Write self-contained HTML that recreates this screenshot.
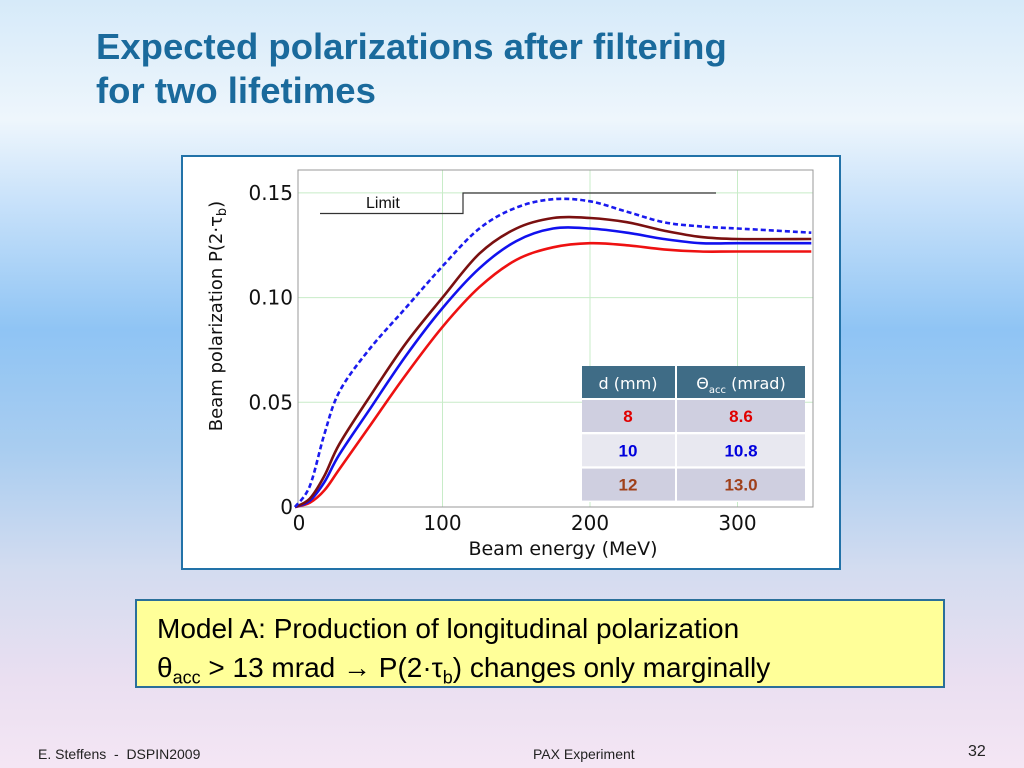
<!DOCTYPE html>
<html><head><meta charset="utf-8"><style>
html,body{margin:0;padding:0;}
body{width:1024px;height:768px;position:relative;overflow:hidden;font-family:"Liberation Sans",sans-serif;
background:linear-gradient(180deg,#d6eaf9 0px,#eef6fc 120px,#c9e2fa 200px,#8fc4f4 330px,#a9cdf0 450px,#d3dcf0 570px,#eadff1 680px,#f4e6f4 768px);}
.title{position:absolute;left:96px;top:25px;font-size:36.5px;font-weight:bold;color:#1a6a9c;line-height:44px;}
.chartbox{position:absolute;left:181px;top:155px;width:656px;height:411px;background:#fff;border:2px solid #2272a8;}
.note{position:absolute;left:135px;top:599px;width:806px;height:85px;background:#ffff99;border:2px solid #2a6f9a;}
.note div{position:absolute;left:20px;font-size:28px;color:#000;white-space:nowrap;}
.foot{position:absolute;top:746px;font-size:14px;color:#222;}
</style></head><body>
<div class="title">Expected polarizations after filtering<br>for two lifetimes</div>
<div class="chartbox"></div>
<svg id="chart" width="1024" height="768" style="position:absolute;left:0;top:0" font-family="DejaVu Sans, Liberation Sans, sans-serif"></svg>
<div class="note">
<div style="top:12px">Model A: Production of longitudinal polarization</div>
<div style="top:51px">θ<sub style="font-size:18px">acc</sub> &gt; 13 mrad → P(2·τ<sub style="font-size:18px">b</sub>) changes only marginally</div>
</div>
<div class="foot" style="left:38px">E. Steffens &nbsp;- &nbsp;DSPIN2009</div>
<div class="foot" style="left:533px">PAX Experiment</div>
<div class="foot" style="left:968px;top:743px;font-size:16px">32</div>
<script>
const energies=[0,10,20,30,50,75,100,125,150,175,200,225,250,275,300,350];
const dashedBlue=[0,0.010,0.035,0.055,0.075,0.095,0.115,0.133,0.143,0.147,0.146,0.141,0.136,0.134,0.133,0.131];
const brown12=[0,0.004,0.015,0.030,0.052,0.078,0.100,0.121,0.133,0.138,0.138,0.136,0.132,0.129,0.128,0.128];
const blue10=[0,0.003,0.012,0.025,0.046,0.072,0.095,0.114,0.127,0.133,0.133,0.131,0.128,0.126,0.126,0.126];
const red8=[0,0.002,0.008,0.018,0.038,0.063,0.086,0.105,0.118,0.124,0.126,0.125,0.123,0.122,0.122,0.122];
const xTicks=[0,100,200,300];
const yTicks=[0,0.05,0.10,0.15];
const yTickLabels=["0","0.05","0.10","0.15"];
const legendRows=[["8","8.6","#e00000"],["10","10.8","#0000dd"],["12","13.0","#a0401a"]];

const svg=document.getElementById('chart');const NS='http://www.w3.org/2000/svg';
const X=v=>295+1.475*v, Y=v=>507-v*2094;
function mk(t,a,p){const e=document.createElementNS(NS,t);for(const k in a)e.setAttribute(k,a[k]);(p||svg).appendChild(e);return e;}
const L=298,R=813,T=170,B=507;
xTicks.forEach(v=>{if(v>0){const g=mk('line',{x1:X(v),x2:X(v),y1:T,y2:B,stroke:'#c8ecc8','stroke-width':1});
}
const t=mk('text',{x:X(v)+(v==0?4:0),y:530,'font-size':20,'text-anchor':'middle',fill:'#111'});t.textContent=v;
});
yTicks.forEach((v,i)=>{if(v>0){const g=mk('line',{x1:L,x2:R,y1:Y(v),y2:Y(v),stroke:'#c8ecc8','stroke-width':1});
}
const t=mk('text',{x:293,y:Y(v)+7,'font-size':20,'text-anchor':'end',fill:'#111'});t.textContent=yTickLabels[i];
});
const fr=mk('rect',{x:L,y:T,width:R-L,height:B-T,fill:'none',stroke:'#999','stroke-width':1});

const xl=mk('text',{x:563,y:555,'font-size':19,'text-anchor':'middle',fill:'#111'});xl.textContent='Beam energy (MeV)';

const yl=mk('text',{transform:'translate(222,316) rotate(-90)','font-size':18,'text-anchor':'middle',fill:'#111'});
yl.innerHTML='Beam polarization P(2·τ<tspan font-size="13" dy="4">b</tspan><tspan dy="-4">)</tspan>';

const lim=mk('polyline',{points:'320,213.5 463,213.5 463,193 716,193',fill:'none',stroke:'#333','stroke-width':1.2});

const lt=mk('text',{x:366,y:208,'font-size':16,fill:'#111','font-family':'Liberation Sans, sans-serif'});lt.textContent='Limit';

function curve(vals,color,dash,name){
const pts=vals.map((v,i)=>[X(energies[i]),Y(v)]);
let d='M'+pts[0][0].toFixed(1)+','+pts[0][1].toFixed(1);
for(let i=0;i<pts.length-1;i++){const p0=pts[Math.max(i-1,0)],p1=pts[i],p2=pts[i+1],p3=pts[Math.min(i+2,pts.length-1)];
const c1=[p1[0]+(p2[0]-p0[0])/6,p1[1]+(p2[1]-p0[1])/6],c2=[p2[0]-(p3[0]-p1[0])/6,p2[1]-(p3[1]-p1[1])/6];
d+='C'+c1.map(n=>n.toFixed(1))+' '+c2.map(n=>n.toFixed(1))+' '+p2.map(n=>n.toFixed(1));}
const p=mk('path',{d:d,fill:'none',stroke:color,'stroke-width':2.6,'stroke-dasharray':dash||'none','stroke-linejoin':'round'});
}
curve(red8,'#ee1111',null,'curve-d8');
curve(blue10,'#1111ee',null,'curve-d10');
curve(brown12,'#7a1010',null,'curve-d12');
curve(dashedBlue,'#1a1aee','5,3','curve-dashed');
const tb=mk('g',{});
mk('rect',{x:582,y:366,width:223,height:136,fill:'#fff'},tb);
mk('rect',{x:582,y:366,width:93,height:32,fill:'#3f6c86'},tb);
mk('rect',{x:677,y:366,width:128,height:32,fill:'#3f6c86'},tb);
let h1=mk('text',{x:628,y:389,'font-size':16,fill:'#fff','text-anchor':'middle'},tb);h1.textContent='d (mm)';
let h2=mk('text',{x:741,y:389,'font-size':16,fill:'#fff','text-anchor':'middle'},tb);h2.innerHTML='Θ<tspan font-size="10" dy="4">acc</tspan><tspan dy="-4"> (mrad)</tspan>';
legendRows.forEach((r,i)=>{const y=400+i*34.3;const bg=i%2?'#e8e8f0':'#cfcfe0';
mk('rect',{x:582,y:y,width:93,height:32,fill:bg},tb);mk('rect',{x:677,y:y,width:128,height:32,fill:bg},tb);
const a=mk('text',{x:628,y:y+22,'font-size':17,'font-weight':'bold',fill:r[2],'text-anchor':'middle','font-family':'Liberation Sans, sans-serif'},tb);a.textContent=r[0];

const b=mk('text',{x:741,y:y+22,'font-size':17,'font-weight':'bold',fill:r[2],'text-anchor':'middle','font-family':'Liberation Sans, sans-serif'},tb);b.textContent=r[1];
});
</script>
</body></html>
